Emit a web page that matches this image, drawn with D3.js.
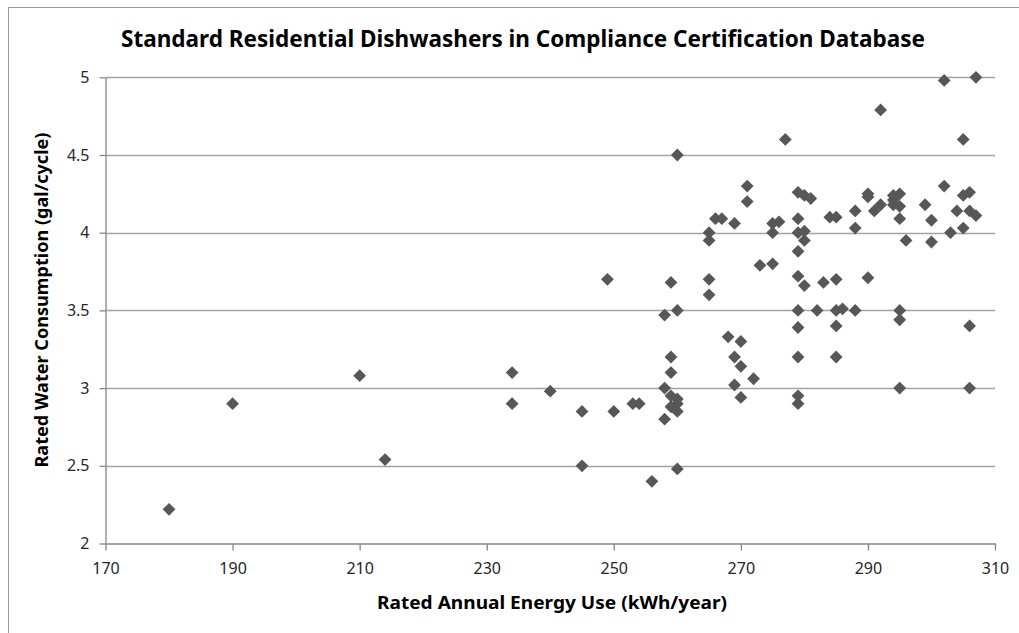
<!DOCTYPE html>
<html>
<head>
<meta charset="utf-8">
<script src="https://cdn.jsdelivr.net/npm/d3@7"></script>
<style>
  body { margin: 0; background: #fff; }
  svg { display: block; font-family: 'Noto Sans', sans-serif; }
</style>
</head>
<body>
<svg id="chart" width="1019" height="633"></svg>
<script>
// rated annual energy use (kWh/year) and rated water use (gal/cycle), one entry per model
const energy = [
  180, 190, 210, 214, 234, 234, 240, 245, 245, 249, 250, 253, 254, 256,
  258, 258, 258, 259, 259, 259, 259, 260, 260, 259, 260, 260, 260, 260,
  265, 265, 265, 265, 266, 267, 269, 271, 271,
  268, 270, 269, 270, 272, 269, 270,
  273, 275, 275, 276, 275, 277,
  279, 280, 281, 279, 279, 280, 280, 279, 279, 280,
  279, 279, 279, 279, 279,
  282, 283, 285, 284, 285, 285, 285, 285, 286, 288,
  288, 288, 290, 290, 290, 291, 292, 292,
  294, 295, 295, 294, 294, 295, 295, 295, 295, 296,
  299, 300, 300, 302, 302, 303, 304, 305, 305, 305, 306, 306, 307, 307, 306, 306
]
const water = [
  2.22, 2.9, 3.08, 2.54, 3.1, 2.9, 2.98, 2.85, 2.5, 3.7, 2.85, 2.9, 2.9, 2.4,
  3.47, 3.0, 2.8, 3.68, 3.2, 3.1, 2.95, 2.93, 2.9, 2.88, 2.85, 3.5, 2.48, 4.5,
  4.0, 3.95, 3.7, 3.6, 4.09, 4.09, 4.06, 4.3, 4.2,
  3.33, 3.3, 3.2, 3.14, 3.06, 3.02, 2.94,
  3.79, 3.8, 4.06, 4.07, 4.0, 4.6,
  4.26, 4.24, 4.22, 4.09, 4.0, 4.01, 3.95, 3.88, 3.72, 3.66,
  3.5, 3.39, 3.2, 2.95, 2.9,
  3.5, 3.68, 3.7, 4.1, 4.1, 3.5, 3.4, 3.2, 3.51, 3.5,
  4.14, 4.03, 4.25, 4.23, 3.71, 4.14, 4.18, 4.79,
  4.24, 4.25, 4.17, 4.18, 4.21, 4.09, 3.5, 3.44, 3.0, 3.95,
  4.18, 4.08, 3.94, 4.98, 4.3, 4.0, 4.14, 4.24, 4.6, 4.03, 4.26, 4.14, 4.11, 5.0, 3.4, 3.0
]
const xTicks = [170, 190, 210, 230, 250, 270, 290, 310]
const yTicks = [2, 2.5, 3, 3.5, 4, 4.5, 5]

const svg = d3.select('#chart')

// chart area frame (runs off the right and bottom of the picture)
svg.append('rect')
  .attr('x', 8.5).attr('y', 7.5)
  .attr('width', 1100).attr('height', 700)
  .attr('fill', '#fff')
  .attr('stroke', '#9a9a9a')

const x = d3.scaleLinear().domain([170, 310]).range([105.5, 995])
const y = d3.scaleLinear().domain([2, 5]).range([543.5, 77.3])

// horizontal gridlines
svg.append('g').selectAll('line')
  .data(yTicks.filter(d => d > 2))
  .enter().append('line')
  .attr('x1', x(170)).attr('x2', x(310))
  .attr('y1', d => Math.round(y(d)) + 0.5)
  .attr('y2', d => Math.round(y(d)) + 0.5)
  .attr('stroke', '#a3a3a3')
  .attr('stroke-width', 1.3)

const yAxis = svg.append('g')
  .attr('transform', `translate(${x(170)},0)`)
  .call(d3.axisLeft(y).tickValues(yTicks).tickSize(6).tickPadding(10).tickSizeOuter(0)
    .tickFormat(d3.format('~g')))

const xAxis = svg.append('g')
  .attr('transform', `translate(0,${y(2)})`)
  .call(d3.axisBottom(x).tickValues(xTicks).tickSize(7).tickPadding(12).tickSizeOuter(0))

for (const g of [xAxis, yAxis]) {
  g.select('.domain').attr('stroke', '#868686').attr('stroke-width', 1.3)
  g.selectAll('.tick line').attr('stroke', '#868686').attr('stroke-width', 1.3)
  g.selectAll('.tick text')
    .attr('fill', '#262626')
    .style('font-size', '16px')
    .style('font-family', "'Noto Sans', sans-serif")
}

// points
const pts = energy.map((e, i) => ({ e, w: water[i] }))
svg.append('g').selectAll('path')
  .data(pts)
  .enter().append('path')
  .attr('d', d3.symbol().type(d3.symbolSquare).size(82))
  .attr('transform', d => `translate(${x(d.e)},${y(d.w)}) rotate(45)`)
  .attr('fill', '#575757')

// titles
svg.append('text')
  .attr('x', 523).attr('y', 47)
  .attr('text-anchor', 'middle')
  .attr('textLength', 804)
  .attr('lengthAdjust', 'spacingAndGlyphs')
  .style('font-size', '23px')
  .style('font-weight', 'bold')
  .attr('fill', '#000')
  .text('Standard Residential Dishwashers in Compliance Certification Database')

svg.append('text')
  .attr('x', 552).attr('y', 609)
  .attr('text-anchor', 'middle')
  .attr('textLength', 350)
  .attr('lengthAdjust', 'spacingAndGlyphs')
  .style('font-size', '18px')
  .style('font-weight', 'bold')
  .attr('fill', '#000')
  .text('Rated Annual Energy Use (kWh/year)')

svg.append('text')
  .attr('transform', 'translate(48,300) rotate(-90)')
  .attr('text-anchor', 'middle')
  .attr('textLength', 335)
  .attr('lengthAdjust', 'spacingAndGlyphs')
  .style('font-size', '17px')
  .style('font-weight', 'bold')
  .attr('fill', '#000')
  .text('Rated Water Consumption (gal/cycle)')
</script>
</body>
</html>
